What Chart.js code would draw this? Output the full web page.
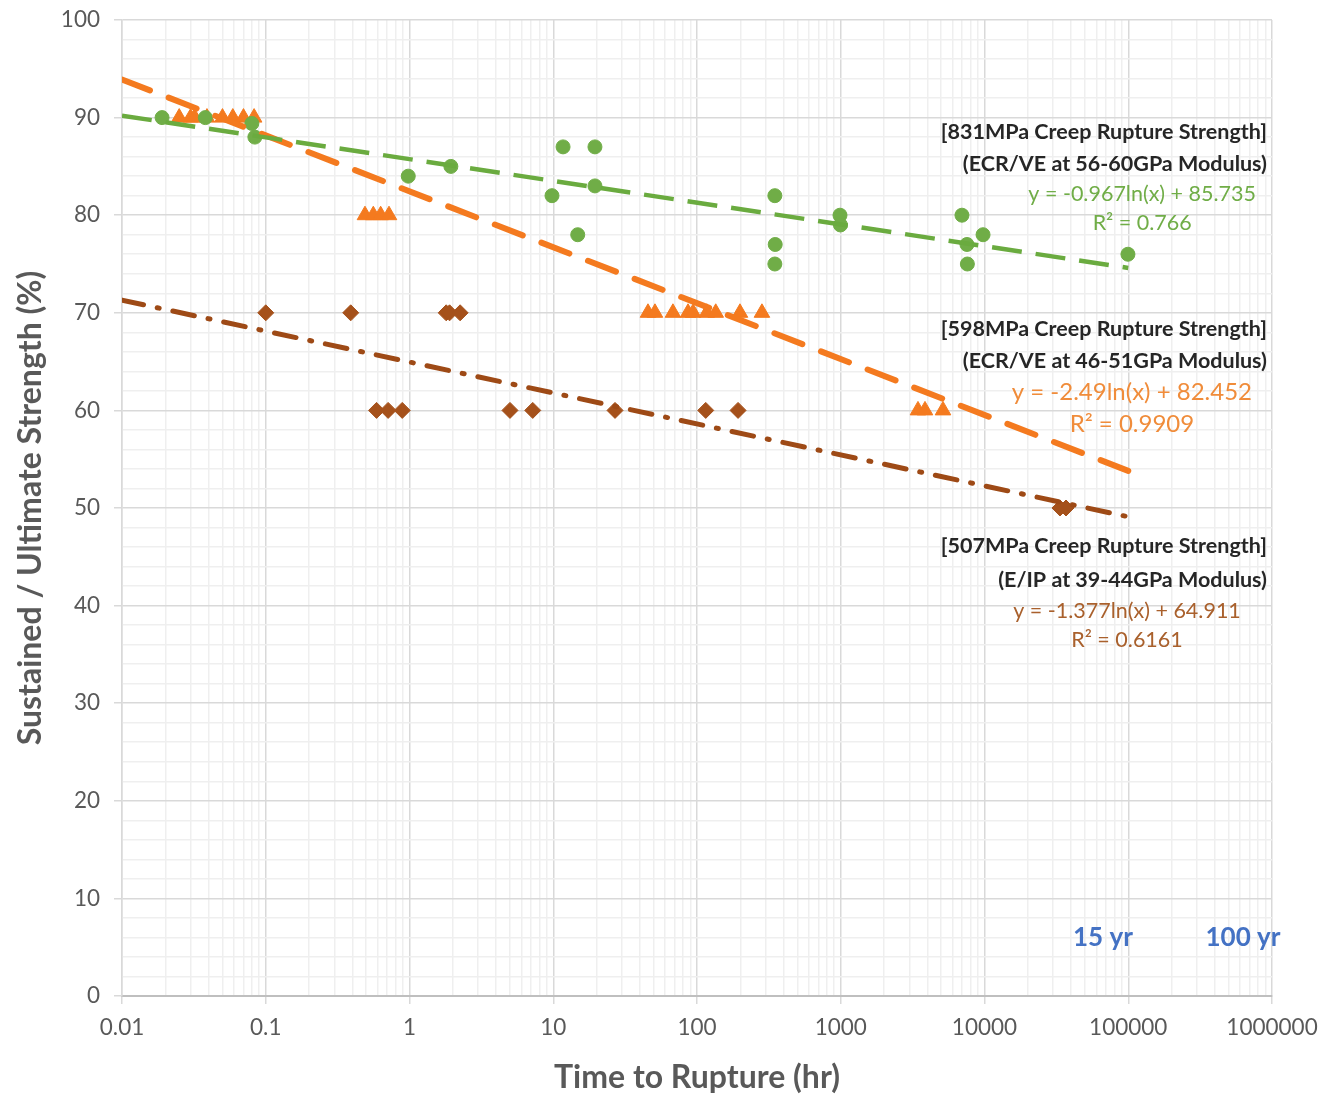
<!DOCTYPE html>
<html>
<head>
<meta charset="utf-8">
<script src="https://cdn.jsdelivr.net/npm/chart.js@4.4.1/dist/chart.umd.min.js"></script>
<style>
  html, body { margin: 0; padding: 0; background: #fff; }
  #wrap { width: 1322px; height: 1094px; position: relative; }
</style>
</head>
<body>
<div id="wrap"><canvas id="creep-chart"></canvas></div>
<script>
// tick labels
const xTickLabels = ['0.01', '0.1', '1', '10', '100', '1000', '10000', '100000', '1000000'];
const yTickLabels = [0, 10, 20, 30, 40, 50, 60, 70, 80, 90, 100];

// 831MPa series (green circles)
const green831X = [0.019, 0.038, 0.08, 0.084, 0.98, 1.94, 9.8, 11.7, 14.8, 19.5, 19.5, 348, 350, 348, 988, 995, 6970, 7550, 7600, 9770, 99500];
const green831Y = [90, 90, 89.4, 88, 84, 85, 82, 87, 78, 87, 83, 82, 77, 75, 80, 79, 80, 77, 75, 78, 76];

// 598MPa series (orange triangles)
const orange598X = [0.025, 0.03, 0.032, 0.039, 0.05, 0.059, 0.07, 0.083, 0.49, 0.56, 0.63, 0.72, 45.6, 51, 68, 86.6, 94, 117, 135, 199, 283, 3445, 3855, 5143];
const orange598Y = [90, 90, 90, 90, 90, 90, 90, 90, 80, 80, 80, 80, 70, 70, 70, 70, 70, 70, 70, 70, 70, 60, 60, 60];

// 507MPa series (brown diamonds)
const brown507X = [0.1, 0.39, 1.8, 1.9, 2.25, 0.59, 0.71, 0.89, 5.0, 7.2, 26.9, 115, 193, 33500, 36900];
const brown507Y = [70, 70, 70, 70, 70, 60, 60, 60, 60, 60, 60, 60, 60, 50, 50];

// trendline end points
const trendX = [0.01, 100000];
const greenTrendY = [90.2, 74.6];
const orangeTrendY = [93.9, 53.8];
const brownTrendY = [71.3, 49.1];

const notes = [
    { text: '[831MPa Creep Rupture Strength]', y: 88.5, right: true, bold: true, color: '#262626' },
    { text: '(ECR/VE at 56-60GPa Modulus)', y: 85.2, right: true, bold: true, color: '#262626' },
    { text: 'y = -0.967ln(x) + 85.735', x: 125000, y: 82.2, color: '#70ad47' },
    { text: 'R² = 0.766', x: 125000, y: 79.2, color: '#70ad47' },
    { text: '[598MPa Creep Rupture Strength]', y: 68.3, right: true, bold: true, color: '#262626' },
    { text: '(ECR/VE at 46-51GPa Modulus)', y: 65.1, right: true, bold: true, color: '#262626' },
    { text: 'y = -2.49ln(x) + 82.452', x: 106000, y: 61.9, color: '#f08c3a', size: 24 },
    { text: 'R² = 0.9909', x: 106000, y: 58.6, color: '#f08c3a', size: 24 },
    { text: '[507MPa Creep Rupture Strength]', y: 46.1, right: true, bold: true, color: '#262626' },
    { text: '(E/IP at 39-44GPa Modulus)', y: 42.6, right: true, bold: true, color: '#262626' },
    { text: 'y = -1.377ln(x) + 64.911', x: 98000, y: 39.4, color: '#a9602c' },
    { text: 'R² = 0.6161', x: 98000, y: 36.5, color: '#a9602c' },
    { text: '15 yr', x: 66700, y: 6.0, bold: true, color: '#4472c4', size: 26 },
    { text: '100 yr', x: 628000, y: 6.0, bold: true, color: '#4472c4', size: 26 }
];

const toPoints = (xs, ys) => xs.map((x, i) => ({ x: x, y: ys[i] }));

const isDecade = v => Math.abs(Math.log10(v) - Math.round(Math.log10(v))) < 1e-9;

const notePlugin = {
    id: 'notes',
    afterDatasetsDraw(chart) {
        const ctx = chart.ctx;
        const xs = chart.scales.x, ys = chart.scales.y;
        ctx.save();
        ctx.textBaseline = 'middle';
        notes.forEach(n => {
            const size = n.size || 21.5;
            ctx.font = (n.bold ? 'bold ' : '') + size + 'px Lato, "Open Sans", sans-serif';
            ctx.fillStyle = n.color;
            const py = ys.getPixelForValue(n.y);
            if (n.right) {
                ctx.textAlign = 'right';
                ctx.fillText(n.text, chart.chartArea.right - 5, py);
            } else {
                ctx.textAlign = 'center';
                ctx.fillText(n.text, xs.getPixelForValue(n.x), py);
            }
        });
        ctx.restore();
    }
};

Chart.defaults.font.family = 'Lato, "Open Sans", sans-serif';

new Chart(document.getElementById('creep-chart').getContext('2d'), {
    type: 'scatter',
    data: {
        datasets: [
            {
                label: 'Green trend', data: toPoints(trendX, greenTrendY), showLine: true,
                borderColor: '#6aab3f', borderWidth: 4.5, borderDash: [30, 14], pointRadius: 0
            },
            {
                label: 'Orange trend', data: toPoints(trendX, orangeTrendY), showLine: true,
                borderColor: '#f47a1f', borderWidth: 6, borderDash: [30, 20], borderCapStyle: 'round', pointRadius: 0
            },
            {
                label: 'Brown trend', data: toPoints(trendX, brownTrendY), showLine: true,
                borderColor: '#9e4a16', borderWidth: 5, borderDash: [22, 14, 2, 14], borderCapStyle: 'round', pointRadius: 0
            },
            {
                label: '831MPa', data: toPoints(green831X, green831Y),
                pointStyle: 'circle', pointRadius: 7, backgroundColor: '#70ad47', borderColor: '#70ad47'
            },
            {
                label: '598MPa', data: toPoints(orange598X, orange598Y),
                pointStyle: 'triangle', pointRadius: 9, backgroundColor: '#f47a1f', borderColor: '#f47a1f'
            },
            {
                label: '507MPa', data: toPoints(brown507X, brown507Y),
                pointStyle: 'rectRot', pointRadius: 8, backgroundColor: '#a5511b', borderColor: '#a5511b'
            }
        ]
    },
    options: {
        responsive: true,
        maintainAspectRatio: false,
        animation: false,
        layout: { padding: { top: 20, right: 50, bottom: 0, left: 0 } },
        plugins: {
            legend: { display: false },
            tooltip: { enabled: false }
        },
        scales: {
            x: {
                type: 'logarithmic',
                min: 0.01,
                max: 1000000,
                afterBuildTicks: scale => {
                    const ticks = [];
                    for (let d = 0; d < xTickLabels.length - 1; d++) {
                        const base = parseFloat(xTickLabels[d]);
                        for (let k = 1; k <= 9; k++) ticks.push({ value: +(base * k).toPrecision(6) });
                    }
                    ticks.push({ value: parseFloat(xTickLabels[xTickLabels.length - 1]) });
                    scale.ticks = ticks;
                },
                afterFit: scale => {
                    scale.height = 98;
                    scale.paddingLeft = 0;
                    scale.paddingRight = 0;
                },
                ticks: {
                    autoSkip: false, maxRotation: 0, minRotation: 0, padding: 10,
                    color: '#595959', font: { size: 22.5 },
                    callback: v => {
                        if (!isDecade(v)) return '';
                        const i = Math.round(Math.log10(v)) + 2;
                        return xTickLabels[i];
                    }
                },
                grid: {
                    color: c => (c.tick && isDecade(c.tick.value)) ? '#d9d9d9' : '#efefef',
                    tickColor: c => (c.tick && isDecade(c.tick.value)) ? '#d9d9d9' : 'rgba(0,0,0,0)',
                    tickLength: 8,
                    lineWidth: 1.5
                },
                border: { color: '#bfbfbf', width: 2 },
                title: {
                    display: true, text: 'Time to Rupture (hr)', color: '#595959',
                    font: { size: 32, weight: 'bold' }, padding: { top: 0, bottom: -3 }
                }
            },
            y: {
                type: 'linear',
                min: 0,
                max: 100,
                afterBuildTicks: scale => {
                    const ticks = [];
                    for (let v = 0; v <= 100; v += 2) ticks.push({ value: v });
                    scale.ticks = ticks;
                },
                afterFit: scale => {
                    scale.width = 122;
                    scale.paddingTop = 0;
                    scale.paddingBottom = 0;
                },
                ticks: {
                    autoSkip: false, padding: 14, color: '#595959', font: { size: 22.5 },
                    callback: v => yTickLabels.includes(v) ? String(v) : ''
                },
                grid: {
                    color: c => (c.tick && c.tick.value % 10 === 0) ? '#d9d9d9' : '#efefef',
                    tickColor: c => (c.tick && c.tick.value % 10 === 0) ? '#d9d9d9' : 'rgba(0,0,0,0)',
                    tickLength: 8,
                    lineWidth: 1.5
                },
                border: { color: '#d9d9d9', width: 1.5 },
                title: {
                    display: true, text: 'Sustained / Ultimate Strength (%)', color: '#595959',
                    font: { size: 32, weight: 'bold' }, padding: { top: 11, bottom: 0 }
                }
            }
        }
    },
    plugins: [notePlugin]
});
</script>
</body>
</html>
